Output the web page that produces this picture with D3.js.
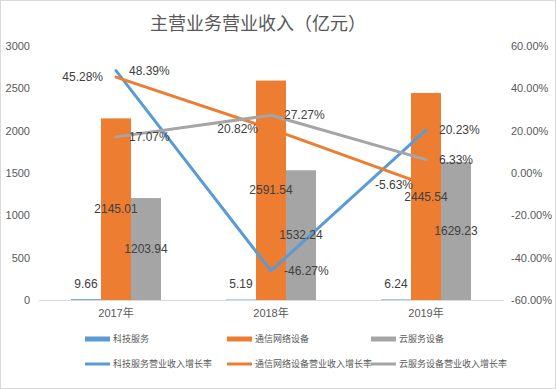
<!DOCTYPE html>
<html>
<head>
<meta charset="utf-8">
<script src="https://cdn.jsdelivr.net/npm/d3@7"></script>
<style>
  body { margin: 0; background: #fff; }
  svg { display: block; font-family: "Liberation Sans", "Noto Sans CJK SC", sans-serif; }
</style>
</head>
<body>
<div id="chart"></div>
<script>
const years = ['2017年', '2018年', '2019年'];
const techRevenue = [9.66, 5.19, 6.24];
const commRevenue = [2145.01, 2591.54, 2445.54];
const cloudRevenue = [1203.94, 1532.24, 1629.23];
const techGrowth = [48.39, -46.27, 20.23];
const commGrowth = [45.28, 20.82, -5.63];
const cloudGrowth = [17.07, 27.27, 6.33];
const leftTicks = [0, 500, 1000, 1500, 2000, 2500, 3000];
const rightTicks = [-60, -40, -20, 0, 20, 40, 60];

const W = 556, H = 389;
const textColor = '#595959';
const colors = { tech: '#5B9BD5', comm: '#ED7D31', cloud: '#A5A5A5' };

const svg = d3.select('#chart').append('svg')
  .attr('width', W)
  .attr('height', H);

svg.append('rect')
  .attr('x', 0.5).attr('y', 0.5)
  .attr('width', W - 1).attr('height', H - 1)
  .attr('fill', '#fff')
  .attr('stroke', '#d9d9d9');

// title
svg.append('text')
  .attr('x', 258).attr('y', 30)
  .attr('text-anchor', 'middle')
  .attr('font-size', 18)
  .attr('font-family', '"Noto Sans CJK SC", sans-serif')
  .attr('fill', textColor)
  .text('主营业务营业收入（亿元）');

// scales
const x = d3.scaleBand()
  .domain(years)
  .range([38.5, 503.5])
  .paddingInner(65 / 155)
  .paddingOuter(65 / 310);

const barSeries = ['tech', 'comm', 'cloud'];
const x1 = d3.scaleBand()
  .domain(barSeries)
  .range([0, x.bandwidth()]);

const y = d3.scaleLinear().domain([0, 3000]).range([300, 46]);
const y2 = d3.scaleLinear().domain([-60, 60]).range([300, 46]);
const cx = d => x(d) + x.bandwidth() / 2;

// axes
const leftAxis = d3.axisLeft(y).tickValues(leftTicks).tickSize(0).tickPadding(0)
  .tickFormat(d3.format('d'));
svg.append('g')
  .attr('transform', 'translate(30,0)')
  .call(leftAxis)
  .call(g => g.select('.domain').remove())
  .selectAll('text')
  .attr('font-size', 11)
  .attr('fill', textColor)
  .attr('font-family', '"Liberation Sans", sans-serif');

const rightAxis = d3.axisRight(y2).tickValues(rightTicks).tickSize(0).tickPadding(0)
  .tickFormat(d => d.toFixed(2) + '%');
svg.append('g')
  .attr('transform', 'translate(511,0)')
  .call(rightAxis)
  .call(g => g.select('.domain').remove())
  .selectAll('text')
  .attr('font-size', 11)
  .attr('fill', textColor)
  .attr('font-family', '"Liberation Sans", sans-serif');

// bars
const barData = {
  tech: techRevenue,
  comm: commRevenue,
  cloud: cloudRevenue,
};

barSeries.forEach(s => {
  svg.append('g')
    .selectAll('rect')
    .data(years)
    .enter().append('rect')
    .attr('x', (d) => x(d) + x1(s))
    .attr('y', (d, i) => y(barData[s][i]))
    .attr('width', x1.bandwidth())
    .attr('height', (d, i) => 300 - y(barData[s][i]))
    .attr('fill', colors[s]);
});

const bottomAxis = d3.axisBottom(x).tickSize(0).tickPadding(9);
svg.append('g')
  .attr('transform', 'translate(0,300)')
  .call(bottomAxis)
  .call(g => g.select('.domain').attr('stroke', '#d9d9d9'))
  .selectAll('text')
  .attr('font-size', 11)
  .attr('fill', textColor)
  .attr('font-family', '"Liberation Sans", "Noto Sans CJK SC", sans-serif');

// lines
const lineData = [
  { key: 'tech', values: techGrowth },
  { key: 'comm', values: commGrowth },
  { key: 'cloud', values: cloudGrowth },
];

const line = d3.line()
  .x((d, i) => cx(years[i]))
  .y(d => y2(d));

lineData.forEach(s => {
  svg.append('path')
    .datum(s.values)
    .attr('d', line)
    .attr('fill', 'none')
    .attr('stroke', colors[s.key])
    .attr('stroke-width', 3)
    .attr('stroke-linejoin', 'round')
    .attr('stroke-linecap', 'round');
});

// data labels
const labels = svg.append('g')
  .attr('font-size', 12)
  .attr('fill', '#404040')
  .attr('font-family', '"Liberation Sans", sans-serif');

// bar labels
labels.selectAll('.lab-tech')
  .data(years)
  .enter().append('text')
  .attr('x', d => x(d) + x1('tech') + x1.bandwidth() / 2)
  .attr('y', 284)
  .attr('dy', '0.35em')
  .attr('text-anchor', 'middle')
  .text((d, i) => techRevenue[i].toFixed(2));

['comm', 'cloud'].forEach(s => {
  labels.selectAll('.lab-' + s)
    .data(years)
    .enter().append('text')
    .attr('x', d => x(d) + x1(s) + x1.bandwidth() / 2)
    .attr('y', (d, i) => (y(barData[s][i]) + 300) / 2)
    .attr('dy', '0.35em')
    .attr('text-anchor', 'middle')
    .text((d, i) => barData[s][i].toFixed(2));
});

// line labels: right for tech and cloud, left for comm
const labelSide = { tech: 'right', comm: 'left', cloud: 'right' };
lineData.forEach(s => {
  labels.selectAll('.lab-g-' + s.key)
    .data(years)
    .enter().append('text')
    .attr('x', d => labelSide[s.key] === 'right' ? cx(d) + 13 : cx(d) - 13)
    .attr('y', (d, i) => y2(s.values[i]))
    .attr('dy', '0.35em')
    .attr('text-anchor', labelSide[s.key] === 'right' ? 'start' : 'end')
    .text((d, i) => s.values[i].toFixed(2) + '%');
});

// legend
const legendItems = [
  { name: '科技服务', key: 'tech', type: 'bar' },
  { name: '通信网络设备', key: 'comm', type: 'bar' },
  { name: '云服务设备', key: 'cloud', type: 'bar' },
  { name: '科技服务营业收入增长率', key: 'tech', type: 'line' },
  { name: '通信网络设备营业收入增长率', key: 'comm', type: 'line' },
  { name: '云服务设备营业收入增长率', key: 'cloud', type: 'line' },
];
const legendX = [85, 227, 371];
const legendY = [339, 364];

const legend = svg.append('g')
  .attr('font-size', 9)
  .attr('fill', textColor)
  .attr('font-family', '"Noto Sans CJK SC", sans-serif');

legendItems.forEach((item, i) => {
  const lx = legendX[i % 3];
  const ly = legendY[Math.floor(i / 3)];
  if (item.type === 'bar') {
    legend.append('rect')
      .attr('x', lx).attr('y', ly - 2.5)
      .attr('width', 25).attr('height', 5)
      .attr('fill', colors[item.key]);
  } else {
    legend.append('line')
      .attr('x1', lx).attr('x2', lx + 25)
      .attr('y1', ly).attr('y2', ly)
      .attr('stroke', colors[item.key])
      .attr('stroke-width', 3);
  }
  legend.append('text')
    .attr('x', lx + 28).attr('y', ly)
    .attr('dy', '0.35em')
    .text(item.name);
});
</script>
</body>
</html>
